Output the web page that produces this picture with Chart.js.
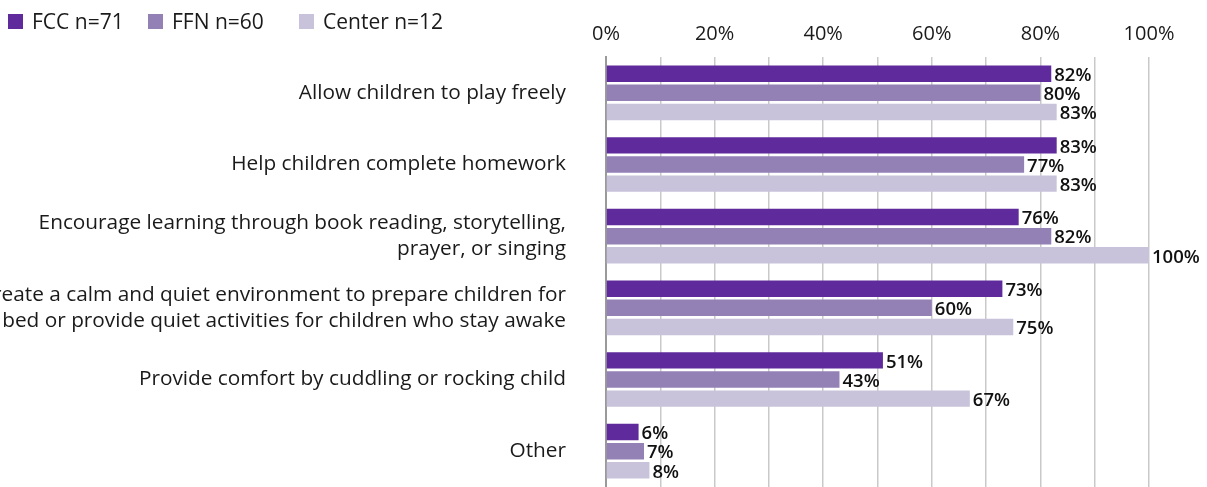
<!DOCTYPE html>
<html>
<head>
<meta charset="utf-8">
<script src="https://cdn.jsdelivr.net/npm/chart.js@4"></script>
<style>
  body { margin: 0; background: #fff; }
  #wrap { position: relative; width: 1207px; height: 487px; }
  #legend { position: absolute; left: 0; top: 0; font: 21px "Open Sans", sans-serif; color: #1a1a1a; }
  #legend span { position: absolute; top: 7px; white-space: nowrap; display: flex; align-items: center; }
  #legend i { display: inline-block; width: 15px; height: 15px; margin-right: 9px; }
</style>
</head>
<body>
<div id="wrap">
  <canvas id="myChart" width="1207" height="487"></canvas>
  <div id="legend"></div>
</div>
<script>
// Categorías y valores (%)
var categorias = [
    'Allow children to play freely',
    'Help children complete homework',
    ['Encourage learning through book reading, storytelling,', 'prayer, or singing'],
    ['Create a calm and quiet environment to prepare children for', 'bed or provide quiet activities for children who stay awake'],
    'Provide comfort by cuddling or rocking child',
    'Other'
];
var series = ['FCC n=71', 'FFN n=60', 'Center n=12'];
var fcc = [82, 83, 76, 73, 51, 6];
var ffn = [80, 77, 82, 60, 43, 7];
var center = [83, 83, 100, 75, 67, 8];
var colores = ['#5f2a9b', '#9381b6', '#c8c3da'];

// Leyenda en HTML
var leg = document.getElementById('legend');
var posLeyenda = [8, 148, 299];
series.forEach(function (s, i) {
    leg.innerHTML += '<span style="left:' + posLeyenda[i] + 'px"><i style="background:' + colores[i] + '"></i>' + s + '</span>';
});

// Etiquetas de valor al final de cada barra
var etiquetas = {
    id: 'etiquetas',
    afterDatasetsDraw: function (chart) {
        var c = chart.ctx;
        c.save();
        c.font = '600 18.5px "Open Sans", sans-serif';
        c.fillStyle = '#111';
        c.textBaseline = 'middle';
        chart.data.datasets.forEach(function (ds, i) {
            chart.getDatasetMeta(i).data.forEach(function (bar, j) {
                c.fillText(ds.data[j] + '%', bar.x + 3, bar.y + 2);
            });
        });
        c.restore();
    }
};

var ctx = document.getElementById('myChart').getContext('2d');
var myChart = new Chart(ctx, {
    type: 'bar',
    data: {
        labels: categorias,
        datasets: series.map(function (s, i) {
            return {
                label: s,
                data: [fcc, ffn, center][i],
                backgroundColor: colores[i],
                categoryPercentage: 0.8,
                barPercentage: 0.86
            };
        })
    },
    options: {
        indexAxis: 'y',
        responsive: false,
        animation: false,
        layout: { padding: { top: 11, right: 58, bottom: 0, left: 0 } },
        plugins: { legend: { display: false }, tooltip: { enabled: false } },
        scales: {
            x: {
                position: 'top',
                min: 0,
                max: 100,
                border: { display: false },
                grid: { color: '#c9c9c9', lineWidth: 1.5, drawTicks: false },
                ticks: {
                    stepSize: 10,
                    padding: 11,
                    maxRotation: 0,
                    autoSkip: false,
                    color: '#1a1a1a',
                    font: { family: '"Open Sans", sans-serif', size: 20 },
                    callback: function (v) { return v % 20 === 0 ? v + '%' : ''; }
                }
            },
            y: {
                afterFit: function (scale) {
                    scale.width = 606;
                    scale.paddingTop = 0;
                    scale.paddingBottom = 0;
                },
                border: { display: true, color: '#9a9a9a', width: 2 },
                grid: { display: false },
                ticks: {
                    padding: 32,
                    color: '#1a1a1a',
                    font: { family: '"Open Sans", sans-serif', size: 20.8, lineHeight: 1.25 }
                }
            }
        }
    },
    plugins: [etiquetas]
});
</script>
</body>
</html>
